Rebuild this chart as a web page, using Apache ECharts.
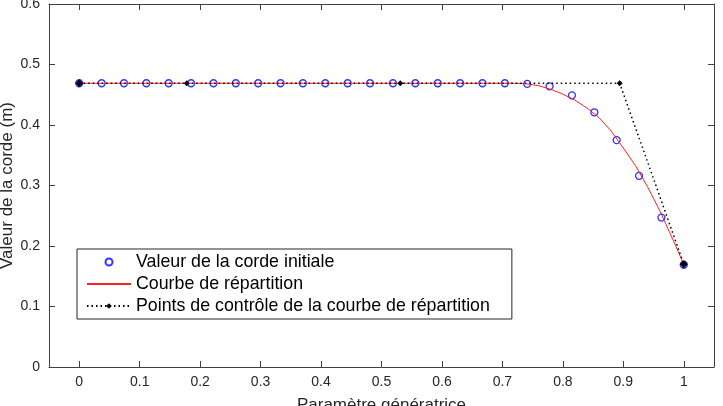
<!DOCTYPE html>
<html lang="fr">
<head>
    <meta charset="UTF-8">
    <title>Valeur de la corde</title>
    <script src="https://cdn.jsdelivr.net/npm/echarts@6/dist/echarts.min.js"></script>
    <style>
        html, body { margin: 0; padding: 0; background: #fff; }
        #chart { width: 723px; height: 406px; }
    </style>
</head>
<body>
    <div id="chart"></div>

    <script>
        // points de la corde initiale
        const initX = [0, 0.037, 0.074, 0.111, 0.148, 0.185, 0.222, 0.259, 0.296, 0.333,
                       0.370, 0.407, 0.444, 0.481, 0.519, 0.556, 0.593, 0.630, 0.667, 0.704,
                       0.741, 0.778, 0.815, 0.852, 0.889, 0.926, 0.963, 1.0];
        const initY = [0.469, 0.469, 0.469, 0.469, 0.469, 0.469, 0.469, 0.469, 0.469, 0.469,
                       0.469, 0.469, 0.469, 0.469, 0.469, 0.469, 0.469, 0.469, 0.469, 0.469,
                       0.468, 0.464, 0.449, 0.421, 0.375, 0.316, 0.247, 0.169];

        // courbe de répartition
        const curveX = [0, 0.70, 0.72, 0.74, 0.76, 0.78, 0.80, 0.82, 0.84, 0.86,
                        0.88, 0.90, 0.92, 0.94, 0.96, 0.98, 1.00];
        const curveY = [0.469, 0.469, 0.469, 0.468, 0.465, 0.459, 0.451, 0.441, 0.428, 0.412,
                        0.390, 0.362, 0.333, 0.298, 0.259, 0.215, 0.170];

        // points de contrôle
        const ctrlX = [0, 0.178, 0.531, 0.894, 1.0];
        const ctrlY = [0.469, 0.469, 0.469, 0.469, 0.170];

        const xTicks = [0, 0.1, 0.2, 0.3, 0.4, 0.5, 0.6, 0.7, 0.8, 0.9, 1];

        const font = "'Liberation Sans', Arial, sans-serif";
        const axisColor = '#404040';
        const textColor = '#262626';

        const zip = (xs, ys) => xs.map((x, i) => [x, ys[i]]);

        const chart = echarts.init(document.getElementById('chart'));

        const xBase = {
            type: 'value',
            min: -0.05,
            max: 1.05,
            axisLine: { show: true, onZero: false, lineStyle: { color: axisColor, width: 1 } },
            axisTick: { show: true, inside: true, length: 6, customValues: xTicks, lineStyle: { color: axisColor } },
            splitLine: { show: false }
        };
        const yBase = {
            type: 'value',
            min: 0,
            max: 0.6,
            interval: 0.1,
            axisLine: { show: true, onZero: false, lineStyle: { color: axisColor, width: 1 } },
            axisTick: { show: true, inside: true, length: 6, lineStyle: { color: axisColor } },
            splitLine: { show: false }
        };

        chart.setOption({
            animation: false,
            textStyle: { fontFamily: font },
            grid: { left: 49, right: 9, top: 4, bottom: 39, containLabel: false, outerBoundsMode: 'none' },
            xAxis: [
                Object.assign({}, xBase, {
                    position: 'bottom',
                    name: 'Paramètre génératrice',
                    nameLocation: 'middle',
                    nameGap: 30,
                    nameMoveOverlap: false,
                    nameTextStyle: { fontSize: 17, color: textColor, fontFamily: font },
                    axisLabel: { customValues: xTicks, margin: 8, fontSize: 14, color: textColor, fontFamily: font }
                }),
                Object.assign({}, xBase, {
                    position: 'top',
                    axisLabel: { show: false }
                })
            ],
            yAxis: [
                Object.assign({}, yBase, {
                    position: 'left',
                    name: 'Valeur de la corde (m)',
                    nameLocation: 'middle',
                    nameGap: 33,
                    nameMoveOverlap: false,
                    nameTextStyle: { fontSize: 17, color: textColor, fontFamily: font },
                    axisLabel: { margin: 9, fontSize: 14, color: textColor, fontFamily: font }
                }),
                Object.assign({}, yBase, {
                    position: 'right',
                    axisLabel: { show: false }
                })
            ],
            legend: {
                orient: 'vertical',
                left: 77,
                top: 249,
                itemWidth: 44,
                itemHeight: 7,
                itemGap: 0,
                padding: [2, 22, 2, 9],
                borderColor: textColor,
                borderWidth: 1,
                backgroundColor: '#fff',
                textStyle: { fontSize: 17.8, lineHeight: 22, color: '#000', fontFamily: font },
                data: [
                    'Valeur de la corde initiale',
                    { name: 'Courbe de répartition', itemStyle: { color: 'rgba(0,0,0,0)', borderWidth: 0 } },
                    'Points de contrôle de la courbe de répartition'
                ]
            },
            series: [
                {
                    name: 'Valeur de la corde initiale',
                    type: 'scatter',
                    symbol: 'circle',
                    symbolSize: 7,
                    itemStyle: { color: 'rgba(0,0,0,0)', borderColor: '#0000ff', borderWidth: 1.3 },
                    data: zip(initX, initY),
                    z: 2
                },
                {
                    name: 'Courbe de répartition',
                    type: 'line',
                    showSymbol: false,
                    symbol: 'none',
                    smooth: false,
                    lineStyle: { color: '#ff2020', width: 1 },
                    itemStyle: { color: '#ff2020' },
                    data: zip(curveX, curveY),
                    z: 3
                },
                {
                    name: 'Points de contrôle de la courbe de répartition',
                    type: 'line',
                    symbol: 'diamond',
                    symbolSize: (v, p) => (p.dataIndex === 0 || p.dataIndex === ctrlX.length - 1) ? 8 : 6,
                    itemStyle: { color: '#000' },
                    lineStyle: { color: '#000', width: 1.5, type: [1.5, 3] },
                    data: zip(ctrlX, ctrlY),
                    z: 4
                }
            ]
        });
    </script>
</body>
</html>
